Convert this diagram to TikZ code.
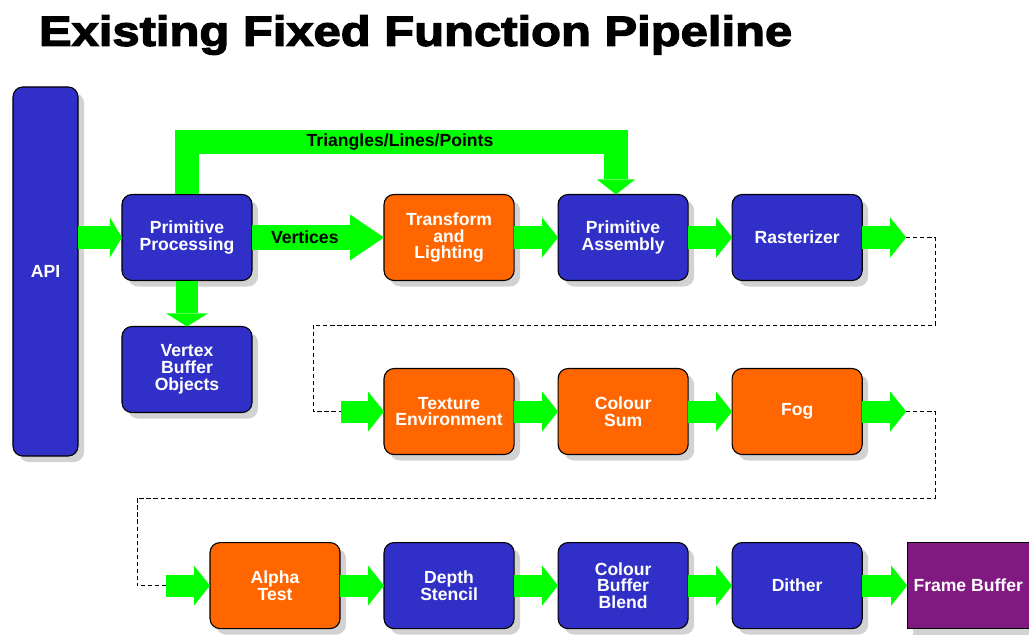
\documentclass[tikz,border=0pt]{standalone}
\usepackage{fontspec}
\setmainfont{Liberation Sans}
\newfontfamily\titlefont{Liberation Sans}[FakeStretch=1.16,FakeBold=3]
\usetikzlibrary{positioning,arrows.meta,shadows}
\definecolor{stageblue}{RGB}{48,48,200}
\definecolor{stageorange}{RGB}{255,102,0}
\definecolor{fbpurple}{RGB}{128,26,128}
\definecolor{flowgreen}{RGB}{0,255,0}
\begin{document}
\begin{tikzpicture}[x=0.025cm,y=-0.025cm,
  stage/.style={draw=black,line width=0.8pt,rounded corners=0.25cm,
    minimum width=3.25cm,minimum height=2.15cm,inner sep=0pt,outer sep=0pt,align=center,
    text=white,font=\bfseries\fontsize{12.5}{12}\selectfont,
    drop shadow={shadow xshift=0.15cm,shadow yshift=-0.15cm,fill=black!35}},
  flow/.style={draw=flowgreen,line width=0.55cm,
    -{Triangle[length=0.4cm,width=1cm,line width=0pt]}},
  flowlabel/.style={text=black,font=\bfseries\fontsize{12.5}{12}\selectfont},
  loopback/.style={draw=black,line width=0.6pt,dash pattern=on 3pt off 2pt}]
  % page
  \useasboundingbox (0,0) rectangle (1029,635);
  % title
  \node[anchor=west,font=\titlefont\bfseries\fontsize{30}{32}\selectfont] (title) at (34,35) {Existing Fixed Function Pipeline};
  % api column
  \node[stage,fill=stageblue,minimum width=1.625cm,minimum height=9.225cm] (api) at (45.5,271.5) {API};
  % first row
  \node[stage,fill=stageblue] (pp) at (187,237.5) {Primitive\\Processing};
  \node[stage,fill=stageblue,below=1.15cm of pp] (vbo) {Vertex\\Buffer\\Objects};
  \node[stage,fill=stageorange,right=3.3cm of pp] (tl) {Transform\\and\\Lighting};
  \node[stage,fill=stageblue,right=1.1cm of tl] (pa) {Primitive\\Assembly};
  \node[stage,fill=stageblue,right=1.1cm of pa] (ras) {Rasterizer};
  % second row
  \node[stage,fill=stageorange,below=2.2cm of tl] (tex) {Texture\\Environment};
  \node[stage,fill=stageorange,right=1.1cm of tex] (sum) {Colour\\Sum};
  \node[stage,fill=stageorange,right=1.1cm of sum] (fog) {Fog};
  % third row
  \node[stage,fill=stageblue,below=2.2cm of tex] (ds) {Depth\\Stencil};
  \node[stage,fill=stageorange,left=1.1cm of ds] (alpha) {Alpha\\Test};
  \node[stage,fill=stageblue,right=1.1cm of ds] (cbb) {Colour\\Buffer\\Blend};
  \node[stage,fill=stageblue,right=1.1cm of cbb] (dith) {Dither};
  \node[stage,fill=fbpurple,rounded corners=0pt,minimum width=3.05cm,right=1.125cm of dith] (fb) {Frame Buffer};
  % free ends of the row arrows
  \coordinate[right=1.1cm of ras] (rasout);
  \coordinate[left=1.075cm of tex] (texin);
  \coordinate[right=1.1cm of fog] (fogout);
  \coordinate[left=1.1cm of alpha] (alphain);
  \coordinate (tri) at (616,142);
  % green flow arrows
  \draw[flow,-{Triangle[length=0.3cm,width=1cm,line width=0pt]}] (api.east |- pp.west) -- (pp.west);
  \draw[flow,line width=0.6cm,-{Triangle[length=0.85cm,width=1.15cm,line width=0pt]}] (pp.east) -- node[flowlabel,pos=0.4] {Vertices} (tl.west);
  \draw[flow,-{Triangle[length=0.33cm,width=1.05cm,line width=0pt]}] (pp.south) -- (vbo.north);
  \draw[flow,line width=0.58cm,-{Triangle[length=0.375cm,width=0.95cm,line width=0pt]}] (pp.north) |- (tri) -- (tri |- pa.north);
  \node[flowlabel] (trilabel) at (400,142) {Triangles/Lines/Points};
  \draw[flow] (tl.east) -- (pa.west);
  \draw[flow] (pa.east) -- (ras.west);
  \draw[flow] (ras.east) -- (rasout);
  \draw[flow] (texin) -- (tex.west);
  \draw[flow] (tex.east) -- (sum.west);
  \draw[flow] (sum.east) -- (fog.west);
  \draw[flow] (fog.east) -- (fogout);
  \draw[flow] (alphain) -- (alpha.west);
  \draw[flow] (alpha.east) -- (ds.west);
  \draw[flow] (ds.east) -- (cbb.west);
  \draw[flow] (cbb.east) -- (dith.west);
  \draw[flow] (dith.east) -- (fb.west);
  % dashed loop backs between rows
  \draw[loopback] (rasout) -- ++(29,0) |- (313,325) |- (texin);
  \draw[loopback] (fogout) -- ++(29,0) |- (137,498) |- (alphain);
\end{tikzpicture}
\end{document}
